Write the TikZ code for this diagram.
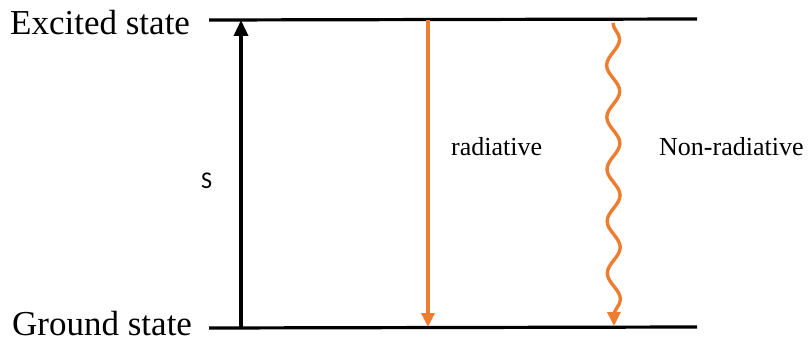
\documentclass[tikz,border=0pt]{standalone}
\usepackage{fontspec}
\setmainfont{Liberation Serif}
\newfontfamily\sansS{Carlito}
\usetikzlibrary{arrows.meta,decorations.pathmorphing}
\definecolor{orng}{HTML}{ED7D31}
\tikzset{
  level/.style={line width=3.2pt,black},
  lbl/.style={inner sep=0pt,anchor=base west,font=\fontsize{35}{35}\selectfont},
  smalllbl/.style={inner sep=0pt,anchor=base west,font=\fontsize{26}{26}\selectfont},
  blackarrow/.style={line width=3.4pt,black,-{Triangle[length=16pt,width=14pt]}},
  orangearrow/.style={line width=3.4pt,orng,-{Triangle[length=14pt,width=13pt]}},
}
\begin{document}
\begin{tikzpicture}[x=1pt,y=-1pt]
\useasboundingbox (0,0) rectangle (810,342);
% levels
\coordinate (e1) at (209,20);
\coordinate (e2) at (697,19);
\coordinate (g1) at (209,328);
\coordinate (g2) at (697,327);
\draw[level] (e1) -- (e2);
\draw[level] (g1) -- (g2);
\node[lbl] (exc) at (10,35) {Excited state};
\node[lbl] (gnd) at (12,335) {Ground state};
% excitation
\coordinate (sb) at (241,328);
\coordinate (st) at (241,20);
\draw[blackarrow] (sb) -- (st);
\node[inner sep=0pt,anchor=base west,font=\sansS\fontsize{24}{24}\selectfont] (S) at (201,188) {S};
% radiative
\coordinate (rt) at (428,20);
\coordinate (rb) at (428,327);
\draw[orangearrow] (rt) -- (rb);
\node[smalllbl] (rad) at (451,155) {radiative};
% non-radiative
\coordinate (nt) at (613,23);
\coordinate (nb) at (614,326);
\draw[orangearrow,decorate,decoration={snake,segment length=52pt,amplitude=6.5pt,post length=4pt}] (nt) -- (nb);
\node[smalllbl] (nrad) at (659,155) {Non-radiative};
\end{tikzpicture}
\end{document}
